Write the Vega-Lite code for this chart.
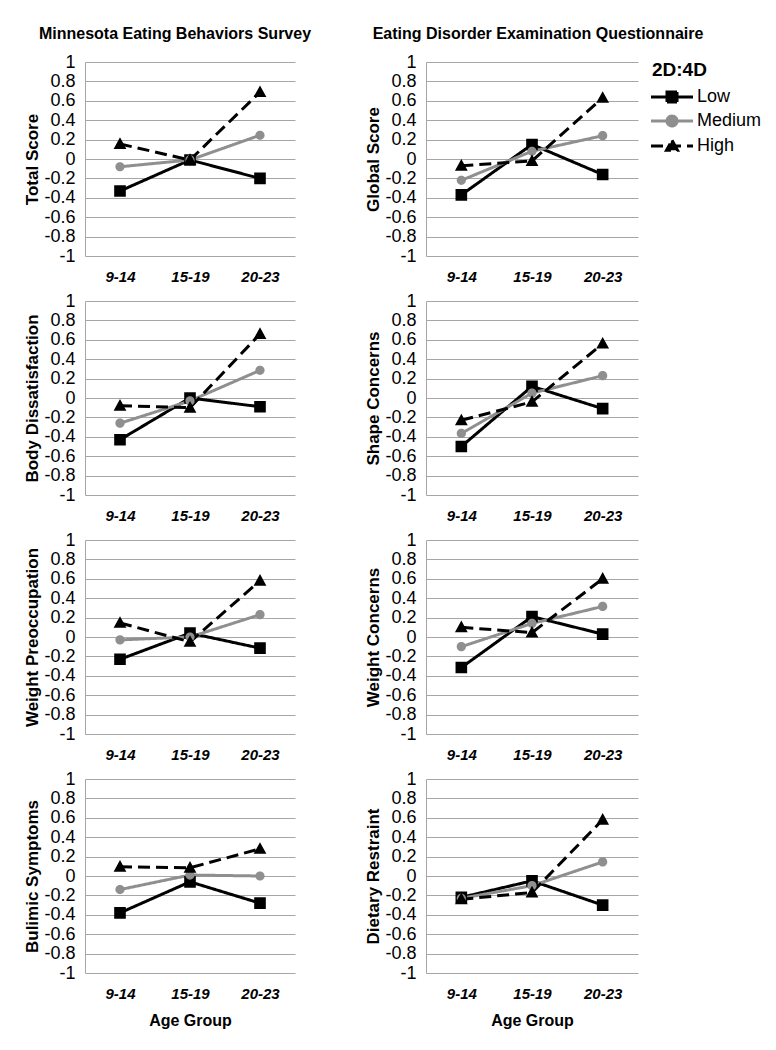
{
"$schema": "https://vega.github.io/schema/vega-lite/v6.json",
"padding": {"left": 23, "top": 26, "right": 5, "bottom": 5},
"background": "white",
"data": {"values": [
{"panel":"Total Score","age":"9-14","group":"Low","value":-0.33},
{"panel":"Total Score","age":"15-19","group":"Low","value":-0.01},
{"panel":"Total Score","age":"20-23","group":"Low","value":-0.20},
{"panel":"Total Score","age":"9-14","group":"Medium","value":-0.08},
{"panel":"Total Score","age":"15-19","group":"Medium","value":-0.01},
{"panel":"Total Score","age":"20-23","group":"Medium","value":0.245},
{"panel":"Total Score","age":"9-14","group":"High","value":0.155},
{"panel":"Total Score","age":"15-19","group":"High","value":-0.01},
{"panel":"Total Score","age":"20-23","group":"High","value":0.69},
{"panel":"Global Score","age":"9-14","group":"Low","value":-0.37},
{"panel":"Global Score","age":"15-19","group":"Low","value":0.15},
{"panel":"Global Score","age":"20-23","group":"Low","value":-0.16},
{"panel":"Global Score","age":"9-14","group":"Medium","value":-0.22},
{"panel":"Global Score","age":"15-19","group":"Medium","value":0.08},
{"panel":"Global Score","age":"20-23","group":"Medium","value":0.24},
{"panel":"Global Score","age":"9-14","group":"High","value":-0.07},
{"panel":"Global Score","age":"15-19","group":"High","value":-0.02},
{"panel":"Global Score","age":"20-23","group":"High","value":0.63},
{"panel":"Body Dissatisfaction","age":"9-14","group":"Low","value":-0.43},
{"panel":"Body Dissatisfaction","age":"15-19","group":"Low","value":0.0},
{"panel":"Body Dissatisfaction","age":"20-23","group":"Low","value":-0.09},
{"panel":"Body Dissatisfaction","age":"9-14","group":"Medium","value":-0.26},
{"panel":"Body Dissatisfaction","age":"15-19","group":"Medium","value":-0.03},
{"panel":"Body Dissatisfaction","age":"20-23","group":"Medium","value":0.285},
{"panel":"Body Dissatisfaction","age":"9-14","group":"High","value":-0.08},
{"panel":"Body Dissatisfaction","age":"15-19","group":"High","value":-0.10},
{"panel":"Body Dissatisfaction","age":"20-23","group":"High","value":0.66},
{"panel":"Shape Concerns","age":"9-14","group":"Low","value":-0.50},
{"panel":"Shape Concerns","age":"15-19","group":"Low","value":0.12},
{"panel":"Shape Concerns","age":"20-23","group":"Low","value":-0.11},
{"panel":"Shape Concerns","age":"9-14","group":"Medium","value":-0.365},
{"panel":"Shape Concerns","age":"15-19","group":"Medium","value":0.05},
{"panel":"Shape Concerns","age":"20-23","group":"Medium","value":0.23},
{"panel":"Shape Concerns","age":"9-14","group":"High","value":-0.23},
{"panel":"Shape Concerns","age":"15-19","group":"High","value":-0.04},
{"panel":"Shape Concerns","age":"20-23","group":"High","value":0.56},
{"panel":"Weight Preoccupation","age":"9-14","group":"Low","value":-0.23},
{"panel":"Weight Preoccupation","age":"15-19","group":"Low","value":0.04},
{"panel":"Weight Preoccupation","age":"20-23","group":"Low","value":-0.115},
{"panel":"Weight Preoccupation","age":"9-14","group":"Medium","value":-0.03},
{"panel":"Weight Preoccupation","age":"15-19","group":"Medium","value":0.0},
{"panel":"Weight Preoccupation","age":"20-23","group":"Medium","value":0.23},
{"panel":"Weight Preoccupation","age":"9-14","group":"High","value":0.145},
{"panel":"Weight Preoccupation","age":"15-19","group":"High","value":-0.05},
{"panel":"Weight Preoccupation","age":"20-23","group":"High","value":0.58},
{"panel":"Weight Concerns","age":"9-14","group":"Low","value":-0.315},
{"panel":"Weight Concerns","age":"15-19","group":"Low","value":0.21},
{"panel":"Weight Concerns","age":"20-23","group":"Low","value":0.03},
{"panel":"Weight Concerns","age":"9-14","group":"Medium","value":-0.10},
{"panel":"Weight Concerns","age":"15-19","group":"Medium","value":0.14},
{"panel":"Weight Concerns","age":"20-23","group":"Medium","value":0.315},
{"panel":"Weight Concerns","age":"9-14","group":"High","value":0.10},
{"panel":"Weight Concerns","age":"15-19","group":"High","value":0.045},
{"panel":"Weight Concerns","age":"20-23","group":"High","value":0.60},
{"panel":"Bulimic Symptoms","age":"9-14","group":"Low","value":-0.38},
{"panel":"Bulimic Symptoms","age":"15-19","group":"Low","value":-0.06},
{"panel":"Bulimic Symptoms","age":"20-23","group":"Low","value":-0.28},
{"panel":"Bulimic Symptoms","age":"9-14","group":"Medium","value":-0.14},
{"panel":"Bulimic Symptoms","age":"15-19","group":"Medium","value":0.01},
{"panel":"Bulimic Symptoms","age":"20-23","group":"Medium","value":0.0},
{"panel":"Bulimic Symptoms","age":"9-14","group":"High","value":0.095},
{"panel":"Bulimic Symptoms","age":"15-19","group":"High","value":0.085},
{"panel":"Bulimic Symptoms","age":"20-23","group":"High","value":0.28},
{"panel":"Dietary Restraint","age":"9-14","group":"Low","value":-0.22},
{"panel":"Dietary Restraint","age":"15-19","group":"Low","value":-0.05},
{"panel":"Dietary Restraint","age":"20-23","group":"Low","value":-0.30},
{"panel":"Dietary Restraint","age":"9-14","group":"Medium","value":-0.23},
{"panel":"Dietary Restraint","age":"15-19","group":"Medium","value":-0.10},
{"panel":"Dietary Restraint","age":"20-23","group":"Medium","value":0.145},
{"panel":"Dietary Restraint","age":"9-14","group":"High","value":-0.24},
{"panel":"Dietary Restraint","age":"15-19","group":"High","value":-0.17},
{"panel":"Dietary Restraint","age":"20-23","group":"High","value":0.58}
]},
"columns": 2,
"spacing": {"row": 45, "column": 131},
"bounds": "flush",
"concat": [
{"title": {"text": "Minnesota Eating Behaviors Survey", "fontSize": 16, "fontWeight": "bold", "anchor": "middle", "frame": "group", "offset": 11, "dx": -15, "color": "#000"},
 "width": 210, "height": 194,
 "transform": [{"filter": "datum.panel === 'Total Score'"}],
 "encoding": {
  "x": {"field": "age", "type": "ordinal", "sort": ["9-14","15-19","20-23"], "scale": {"type": "point", "padding": 0.5}, "axis": {"title": null}},
  "y": {"field": "value", "type": "quantitative", "scale": {"domain": [-1,1], "nice": false}, "axis": {"title": "Total Score"}},
  "color": {"field": "group", "type": "nominal", "scale": {"domain": ["Low","Medium","High"], "range": ["#000000","#8f8f8f","#000000"]},
   "legend": {"title": "2D:4D", "orient": "none", "legendX": 567, "legendY": -1, "titleAnchor": "start", "titleAlign": "left", "titleFontSize": 19, "titleFontWeight": "bold", "titleColor": "#000", "labelFontSize": 18, "labelColor": "#000", "symbolSize": 100, "symbolStrokeWidth": 3, "symbolOffset": 11, "labelOffset": 16, "rowPadding": 2, "titlePadding": 8}}
 },
 "layer": [
  {"mark": {"type": "line", "strokeWidth": 3}, "encoding": {"strokeDash": {"field": "group", "type": "nominal", "scale": {"domain": ["Low","Medium","High"], "range": [[1,0],[1,0],[12,6]]}}}},
  {"mark": {"type": "point", "filled": true, "opacity": 1}, "encoding": {"shape": {"field": "group", "type": "nominal", "scale": {"domain": ["Low","Medium","High"], "range": ["M-4.2,0H4.2M-1,-1H1V1H-1Z", "M-4.2,0H4.2M-1,0A1,1 0 1,0 1,0A1,1 0 1,0 -1,0Z", "M-4.2,0H4.2M0,-1.15L1.1,0.85H-1.1Z"]}, "legend": null}, "size": {"condition": {"test": "datum.group === 'Medium'", "value": 85}, "value": 135}}}
 ]},
{"title": {"text": "Eating Disorder Examination Questionnaire", "fontSize": 16, "fontWeight": "bold", "anchor": "middle", "frame": "group", "offset": 11, "dx": 6, "color": "#000"},
 "width": 212, "height": 194,
 "transform": [{"filter": "datum.panel === 'Global Score'"}],
 "encoding": {
  "x": {"field": "age", "type": "ordinal", "sort": ["9-14","15-19","20-23"], "scale": {"type": "point", "padding": 0.5}, "axis": {"title": null}},
  "y": {"field": "value", "type": "quantitative", "scale": {"domain": [-1,1], "nice": false}, "axis": {"title": "Global Score"}},
  "color": {"field": "group", "type": "nominal", "scale": {"domain": ["Low","Medium","High"], "range": ["#000000","#8f8f8f","#000000"]}}
 },
 "layer": [
  {"mark": {"type": "line", "strokeWidth": 3}, "encoding": {"strokeDash": {"field": "group", "type": "nominal", "scale": {"domain": ["Low","Medium","High"], "range": [[1,0],[1,0],[12,6]]}}}},
  {"mark": {"type": "point", "filled": true, "opacity": 1}, "encoding": {"shape": {"field": "group", "type": "nominal", "scale": {"domain": ["Low","Medium","High"], "range": ["M-4.2,0H4.2M-1,-1H1V1H-1Z", "M-4.2,0H4.2M-1,0A1,1 0 1,0 1,0A1,1 0 1,0 -1,0Z", "M-4.2,0H4.2M0,-1.15L1.1,0.85H-1.1Z"]}, "legend": null}, "size": {"condition": {"test": "datum.group === 'Medium'", "value": 85}, "value": 135}}}
 ]},
{"width": 210, "height": 194,
 "transform": [{"filter": "datum.panel === 'Body Dissatisfaction'"}],
 "encoding": {
  "x": {"field": "age", "type": "ordinal", "sort": ["9-14","15-19","20-23"], "scale": {"type": "point", "padding": 0.5}, "axis": {"title": null}},
  "y": {"field": "value", "type": "quantitative", "scale": {"domain": [-1,1], "nice": false}, "axis": {"title": "Body Dissatisfaction"}},
  "color": {"field": "group", "type": "nominal", "scale": {"domain": ["Low","Medium","High"], "range": ["#000000","#8f8f8f","#000000"]}}
 },
 "layer": [
  {"mark": {"type": "line", "strokeWidth": 3}, "encoding": {"strokeDash": {"field": "group", "type": "nominal", "scale": {"domain": ["Low","Medium","High"], "range": [[1,0],[1,0],[12,6]]}}}},
  {"mark": {"type": "point", "filled": true, "opacity": 1}, "encoding": {"shape": {"field": "group", "type": "nominal", "scale": {"domain": ["Low","Medium","High"], "range": ["M-4.2,0H4.2M-1,-1H1V1H-1Z", "M-4.2,0H4.2M-1,0A1,1 0 1,0 1,0A1,1 0 1,0 -1,0Z", "M-4.2,0H4.2M0,-1.15L1.1,0.85H-1.1Z"]}, "legend": null}, "size": {"condition": {"test": "datum.group === 'Medium'", "value": 85}, "value": 135}}}
 ]},
{"width": 212, "height": 194,
 "transform": [{"filter": "datum.panel === 'Shape Concerns'"}],
 "encoding": {
  "x": {"field": "age", "type": "ordinal", "sort": ["9-14","15-19","20-23"], "scale": {"type": "point", "padding": 0.5}, "axis": {"title": null}},
  "y": {"field": "value", "type": "quantitative", "scale": {"domain": [-1,1], "nice": false}, "axis": {"title": "Shape Concerns"}},
  "color": {"field": "group", "type": "nominal", "scale": {"domain": ["Low","Medium","High"], "range": ["#000000","#8f8f8f","#000000"]}}
 },
 "layer": [
  {"mark": {"type": "line", "strokeWidth": 3}, "encoding": {"strokeDash": {"field": "group", "type": "nominal", "scale": {"domain": ["Low","Medium","High"], "range": [[1,0],[1,0],[12,6]]}}}},
  {"mark": {"type": "point", "filled": true, "opacity": 1}, "encoding": {"shape": {"field": "group", "type": "nominal", "scale": {"domain": ["Low","Medium","High"], "range": ["M-4.2,0H4.2M-1,-1H1V1H-1Z", "M-4.2,0H4.2M-1,0A1,1 0 1,0 1,0A1,1 0 1,0 -1,0Z", "M-4.2,0H4.2M0,-1.15L1.1,0.85H-1.1Z"]}, "legend": null}, "size": {"condition": {"test": "datum.group === 'Medium'", "value": 85}, "value": 135}}}
 ]},
{"width": 210, "height": 194,
 "transform": [{"filter": "datum.panel === 'Weight Preoccupation'"}],
 "encoding": {
  "x": {"field": "age", "type": "ordinal", "sort": ["9-14","15-19","20-23"], "scale": {"type": "point", "padding": 0.5}, "axis": {"title": null}},
  "y": {"field": "value", "type": "quantitative", "scale": {"domain": [-1,1], "nice": false}, "axis": {"title": "Weight Preoccupation"}},
  "color": {"field": "group", "type": "nominal", "scale": {"domain": ["Low","Medium","High"], "range": ["#000000","#8f8f8f","#000000"]}}
 },
 "layer": [
  {"mark": {"type": "line", "strokeWidth": 3}, "encoding": {"strokeDash": {"field": "group", "type": "nominal", "scale": {"domain": ["Low","Medium","High"], "range": [[1,0],[1,0],[12,6]]}}}},
  {"mark": {"type": "point", "filled": true, "opacity": 1}, "encoding": {"shape": {"field": "group", "type": "nominal", "scale": {"domain": ["Low","Medium","High"], "range": ["M-4.2,0H4.2M-1,-1H1V1H-1Z", "M-4.2,0H4.2M-1,0A1,1 0 1,0 1,0A1,1 0 1,0 -1,0Z", "M-4.2,0H4.2M0,-1.15L1.1,0.85H-1.1Z"]}, "legend": null}, "size": {"condition": {"test": "datum.group === 'Medium'", "value": 85}, "value": 135}}}
 ]},
{"width": 212, "height": 194,
 "transform": [{"filter": "datum.panel === 'Weight Concerns'"}],
 "encoding": {
  "x": {"field": "age", "type": "ordinal", "sort": ["9-14","15-19","20-23"], "scale": {"type": "point", "padding": 0.5}, "axis": {"title": null}},
  "y": {"field": "value", "type": "quantitative", "scale": {"domain": [-1,1], "nice": false}, "axis": {"title": "Weight Concerns"}},
  "color": {"field": "group", "type": "nominal", "scale": {"domain": ["Low","Medium","High"], "range": ["#000000","#8f8f8f","#000000"]}}
 },
 "layer": [
  {"mark": {"type": "line", "strokeWidth": 3}, "encoding": {"strokeDash": {"field": "group", "type": "nominal", "scale": {"domain": ["Low","Medium","High"], "range": [[1,0],[1,0],[12,6]]}}}},
  {"mark": {"type": "point", "filled": true, "opacity": 1}, "encoding": {"shape": {"field": "group", "type": "nominal", "scale": {"domain": ["Low","Medium","High"], "range": ["M-4.2,0H4.2M-1,-1H1V1H-1Z", "M-4.2,0H4.2M-1,0A1,1 0 1,0 1,0A1,1 0 1,0 -1,0Z", "M-4.2,0H4.2M0,-1.15L1.1,0.85H-1.1Z"]}, "legend": null}, "size": {"condition": {"test": "datum.group === 'Medium'", "value": 85}, "value": 135}}}
 ]},
{"width": 210, "height": 194,
 "transform": [{"filter": "datum.panel === 'Bulimic Symptoms'"}],
 "encoding": {
  "x": {"field": "age", "type": "ordinal", "sort": ["9-14","15-19","20-23"], "scale": {"type": "point", "padding": 0.5}, "axis": {"title": "Age Group"}},
  "y": {"field": "value", "type": "quantitative", "scale": {"domain": [-1,1], "nice": false}, "axis": {"title": "Bulimic Symptoms"}},
  "color": {"field": "group", "type": "nominal", "scale": {"domain": ["Low","Medium","High"], "range": ["#000000","#8f8f8f","#000000"]}}
 },
 "layer": [
  {"mark": {"type": "line", "strokeWidth": 3}, "encoding": {"strokeDash": {"field": "group", "type": "nominal", "scale": {"domain": ["Low","Medium","High"], "range": [[1,0],[1,0],[12,6]]}}}},
  {"mark": {"type": "point", "filled": true, "opacity": 1}, "encoding": {"shape": {"field": "group", "type": "nominal", "scale": {"domain": ["Low","Medium","High"], "range": ["M-4.2,0H4.2M-1,-1H1V1H-1Z", "M-4.2,0H4.2M-1,0A1,1 0 1,0 1,0A1,1 0 1,0 -1,0Z", "M-4.2,0H4.2M0,-1.15L1.1,0.85H-1.1Z"]}, "legend": null}, "size": {"condition": {"test": "datum.group === 'Medium'", "value": 85}, "value": 135}}}
 ]},
{"width": 212, "height": 194,
 "transform": [{"filter": "datum.panel === 'Dietary Restraint'"}],
 "encoding": {
  "x": {"field": "age", "type": "ordinal", "sort": ["9-14","15-19","20-23"], "scale": {"type": "point", "padding": 0.5}, "axis": {"title": "Age Group"}},
  "y": {"field": "value", "type": "quantitative", "scale": {"domain": [-1,1], "nice": false}, "axis": {"title": "Dietary Restraint"}},
  "color": {"field": "group", "type": "nominal", "scale": {"domain": ["Low","Medium","High"], "range": ["#000000","#8f8f8f","#000000"]}}
 },
 "layer": [
  {"mark": {"type": "line", "strokeWidth": 3}, "encoding": {"strokeDash": {"field": "group", "type": "nominal", "scale": {"domain": ["Low","Medium","High"], "range": [[1,0],[1,0],[12,6]]}}}},
  {"mark": {"type": "point", "filled": true, "opacity": 1}, "encoding": {"shape": {"field": "group", "type": "nominal", "scale": {"domain": ["Low","Medium","High"], "range": ["M-4.2,0H4.2M-1,-1H1V1H-1Z", "M-4.2,0H4.2M-1,0A1,1 0 1,0 1,0A1,1 0 1,0 -1,0Z", "M-4.2,0H4.2M0,-1.15L1.1,0.85H-1.1Z"]}, "legend": null}, "size": {"condition": {"test": "datum.group === 'Medium'", "value": 85}, "value": 135}}}
 ]}
],
"config": {
 "font": "Liberation Sans",
 "locale": {"number": {"decimal": ".", "thousands": ",", "grouping": [3], "currency": ["$", ""], "minus": "-"}},
 "view": {"stroke": null},
 "title": {"font": "Liberation Sans"},
 "axisY": {"labelFontSize": 18, "labelColor": "#000", "labelPadding": 10, "gridColor": "#a6a6a6", "gridWidth": 1, "gridOpacity": 1, "domainColor": "#a6a6a6", "domainWidth": 1, "ticks": false, "tickCount": 10, "format": ".1~f", "titleFontSize": 17, "titleColor": "#000", "titlePadding": 2, "titleFontWeight": "bold", "labelFont": "Liberation Sans", "titleFont": "Liberation Sans"},
 "axisX": {"labelFontSize": 15, "labelFontWeight": "bold", "labelFontStyle": "italic", "labelColor": "#000", "labelPadding": 13, "labelAngle": 0, "domain": false, "ticks": false, "grid": false, "titleFontSize": 16, "titleFontWeight": "bold", "titleColor": "#000", "titlePadding": 11, "labelFont": "Liberation Sans", "titleFont": "Liberation Sans"},
 "legend": {"labelFont": "Liberation Sans", "titleFont": "Liberation Sans"}
}
}
